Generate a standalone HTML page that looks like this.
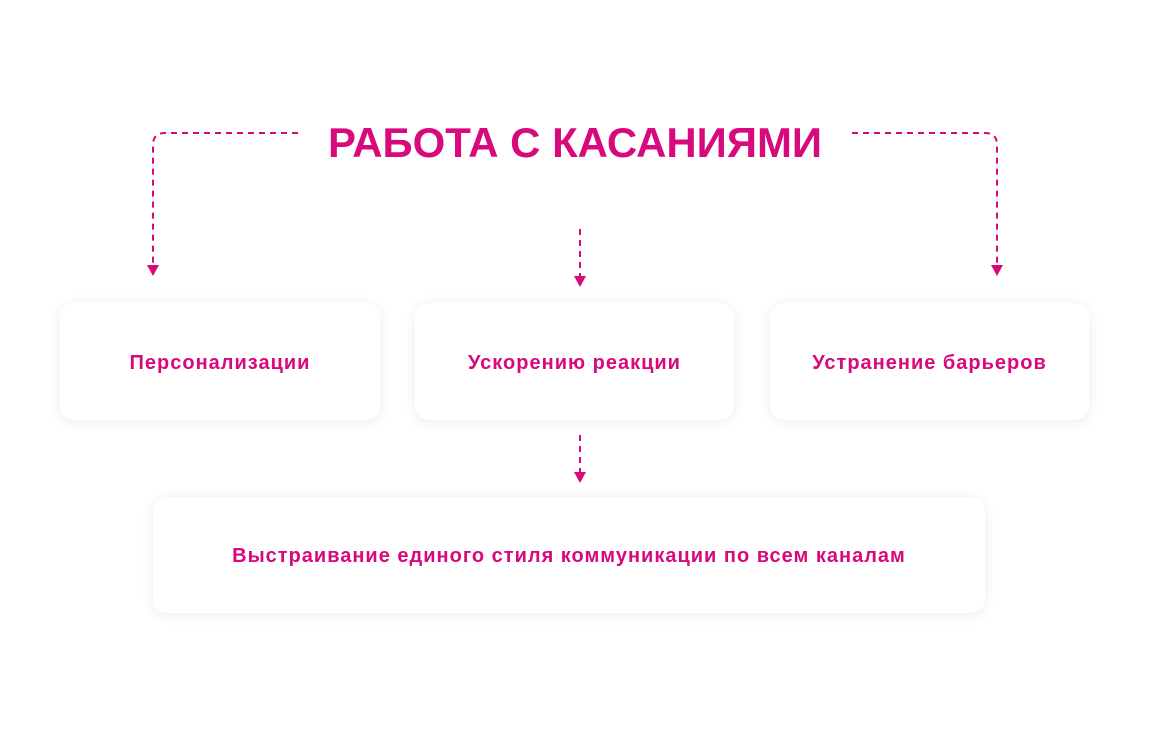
<!DOCTYPE html>
<html><head><meta charset="utf-8"><style>
html,body{margin:0;padding:0;background:#fff;width:1150px;height:740px;overflow:hidden}
.box{position:absolute;background:#fff;border-radius:14px;box-shadow:0 2px 14px rgba(0,0,0,0.08);display:flex;align-items:center;justify-content:center;color:#d8087d;font-family:"Liberation Sans",sans-serif;font-weight:bold;font-size:20px;letter-spacing:1px;padding-top:3px;box-sizing:border-box}
svg{position:absolute;left:0;top:0}
</style></head><body>
<svg width="1150" height="740">
<g fill="none" stroke="#d8087d" stroke-width="2" stroke-dasharray="6,5">
<path d="M298 133 H165 Q153 133 153 145 V266"/>
<path d="M852 133 H985 Q997 133 997 145 V266"/>
<path d="M580 229 V276"/>
<path d="M580 435 V472"/>
</g>
<g fill="#d8087d">
<path d="M147 265 L159 265 L153 276Z"/>
<path d="M991 265 L1003 265 L997 276Z"/>
<path d="M574 276 L586 276 L580 287Z"/>
<path d="M574 472 L586 472 L580 483Z"/>
</g>
<text x="575" y="157" text-anchor="middle" font-family="Liberation Sans, sans-serif" font-weight="bold" font-size="42" fill="#d8087d" textLength="494" lengthAdjust="spacingAndGlyphs">РАБОТА С КАСАНИЯМИ</text>
</svg>
<div class="box" style="left:60px;top:303px;width:320px;height:117px">Персонализации</div>
<div class="box" style="left:415px;top:303px;width:319px;height:117px">Ускорению реакции</div>
<div class="box" style="left:770px;top:303px;width:319px;height:117px">Устранение барьеров</div>
<div class="box" style="left:153px;top:497px;width:832px;height:116px">Выстраивание единого стиля коммуникации по всем каналам</div>
</body></html>
